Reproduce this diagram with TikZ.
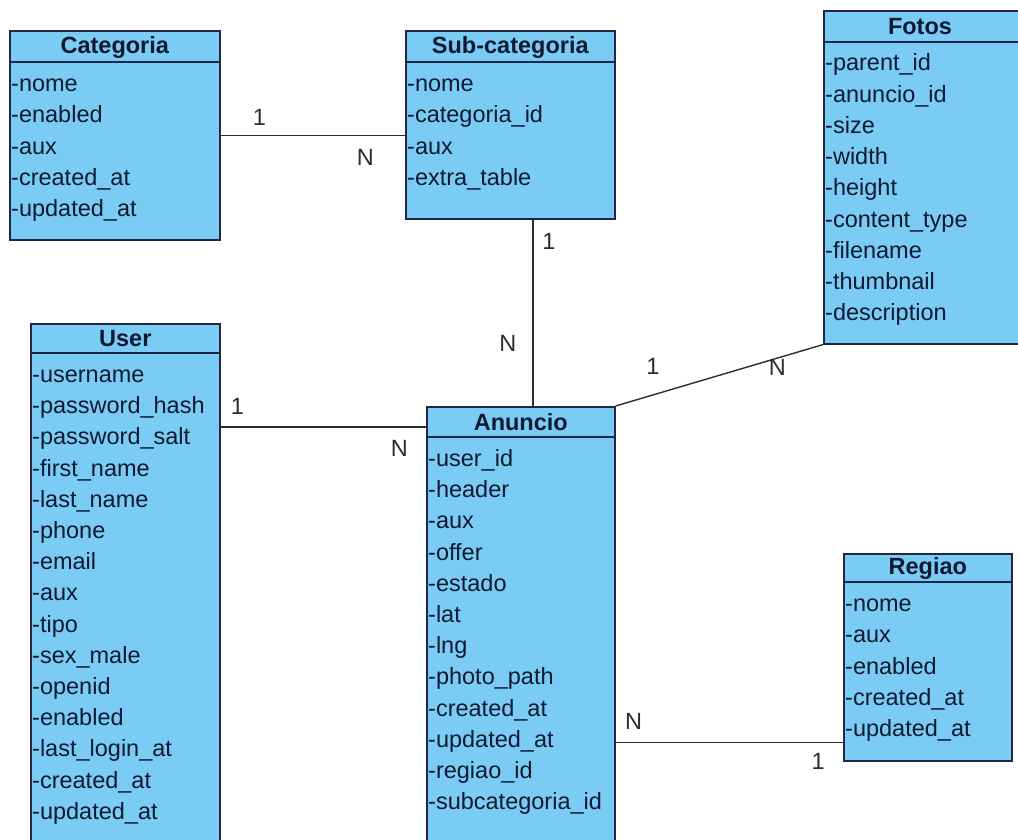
\documentclass[tikz,border=0pt]{standalone}
\usepackage{fontspec}
\setmainfont{Liberation Sans}
\usetikzlibrary{positioning,calc}

\definecolor{umlfill}{RGB}{122,204,244}
\definecolor{umlline}{RGB}{30,40,70}
\definecolor{umltext}{RGB}{15,25,50}
\definecolor{linkgray}{RGB}{45,45,45}

\begin{document}
\begin{tikzpicture}[
            x=1pt, y=-1pt,
            font=\fontsize{23.5}{28}\selectfont,
            entity/.style = {draw=umlline, fill=umlfill, line width=1.6pt, anchor=north west, inner sep=0pt},
            sepline/.style = {draw=umlline, line width=1.6pt},
            title/.style = {font=\fontsize{23.5}{28}\selectfont\bfseries, text=umltext, inner sep=0pt},
            attr/.style = {anchor=base west, text=umltext, inner sep=0pt},
            link/.style = {draw=linkgray, line width=1.4pt},
            card/.style = {text=linkgray, inner sep=0pt}
        ]
        \useasboundingbox (0,0) rectangle (1018,840);
        \clip (0,0) rectangle (1018,840);

        % Categoria
        \node [entity, minimum width=210pt, minimum height=209pt] (categoria) at (9,30) {};
        \draw [sepline] ([yshift=-32pt]categoria.north west) -- ([yshift=-32pt]categoria.north east);
        \node [title] (categoriaTitle) at ([yshift=-17pt]categoria.north) {Categoria};
        \foreach \a [count=\i] in {nome,enabled,aux,created\_at,updated\_at}
            \node [attr] (categoria\i) at ([xshift=2pt, yshift={-61.5pt-31.3pt*(\i-1)}]categoria.north west) {-\a};

        % Sub-categoria
        \node [entity, minimum width=209pt, minimum height=188pt] (subcategoria) at (405,30) {};
        \draw [sepline] ([yshift=-32pt]subcategoria.north west) -- ([yshift=-32pt]subcategoria.north east);
        \node [title] (subcategoriaTitle) at ([yshift=-17pt]subcategoria.north) {Sub-categoria};
        \foreach \a [count=\i] in {nome,categoria\_id,aux,extra\_table}
            \node [attr] (subcategoria\i) at ([xshift=2pt, yshift={-61.5pt-31.3pt*(\i-1)}]subcategoria.north west) {-\a};

        % Fotos
        \node [entity, minimum width=215pt, minimum height=333pt] (fotos) at (823,10) {};
        \draw [sepline] ([yshift=-32pt]fotos.north west) -- ([yshift=-32pt]fotos.north east);
        \node [title] (fotosTitle) at ([yshift=-17pt]fotos.north west) [anchor=center, xshift=97pt] {Fotos};
        \foreach \a [count=\i] in {parent\_id,anuncio\_id,size,width,height,content\_type,filename,thumbnail,description}
            \node [attr] (fotos\i) at ([xshift=2pt, yshift={-61pt-31.2pt*(\i-1)}]fotos.north west) {-\a};

        % User
        \node [entity, minimum width=189pt, minimum height=540pt] (user) at (30,323) {};
        \draw [sepline] ([yshift=-30pt]user.north west) -- ([yshift=-30pt]user.north east);
        \node [title] (userTitle) at ([yshift=-16pt]user.north) {User};
        \foreach \a [count=\i] in {username,password\_hash,password\_salt,first\_name,last\_name,phone,email,aux,tipo,sex\_male,openid,enabled,last\_login\_at,created\_at,updated\_at}
            \node [attr] (user\i) at ([xshift=2pt, yshift={-59.5pt-31.2pt*(\i-1)}]user.north west) {-\a};

        % Anuncio
        \node [entity, minimum width=188pt, minimum height=460pt] (anuncio) at (426,406) {};
        \draw [sepline] ([yshift=-31pt]anuncio.north west) -- ([yshift=-31pt]anuncio.north east);
        \node [title] (anuncioTitle) at ([yshift=-16.5pt]anuncio.north) {Anuncio};
        \foreach \a [count=\i] in {user\_id,header,aux,offer,estado,lat,lng,photo\_path,created\_at,updated\_at,regiao\_id,subcategoria\_id}
            \node [attr] (anuncio\i) at ([xshift=2pt, yshift={-60.5pt-31.2pt*(\i-1)}]anuncio.north west) {-\a};

        % Regiao
        \node [entity, minimum width=168pt, minimum height=207pt] (regiao) at (843,553) {};
        \draw [sepline] ([yshift=-29pt]regiao.north west) -- ([yshift=-29pt]regiao.north east);
        \node [title] (regiaoTitle) at ([yshift=-15.5pt]regiao.north) {Regiao};
        \foreach \a [count=\i] in {nome,aux,enabled,created\_at,updated\_at}
            \node [attr] (regiao\i) at ([xshift=2pt, yshift={-58.5pt-31.3pt*(\i-1)}]regiao.north west) {-\a};

        % Relacoes
        \coordinate (scEnd) at ([xshift=22.5pt]subcategoria.south);
        \coordinate (uaEnd) at ([yshift=-21pt]anuncio.north west);
        \coordinate (rgEnd) at ([yshift=19pt]regiao.south west);

        \draw [link] (categoria.east) -- (categoria.east -| subcategoria.west)
            node [card, pos=0.21, yshift=18pt] (catOne) {1}
            node [card, pos=0.785, yshift=-22pt] (catMany) {N};
        \draw [link] (scEnd) -- (scEnd |- anuncio.north)
            node [card, pos=0.117, xshift=16pt] (subOne) {1}
            node [card, pos=0.665, xshift=-25pt] (subMany) {N};
        \draw [link] (uaEnd -| user.east) -- (uaEnd)
            node [card, pos=0.082, yshift=21pt] (userOne) {1}
            node [card, pos=0.87, yshift=-21pt] (userMany) {N};
        \draw [link] (anuncio.north east) -- (fotos.south west)
            node [card, pos=0.18, yshift=29pt] (fotoOne) {1}
            node [card, pos=0.78, yshift=-9pt] (fotoMany) {N};
        \draw [link] (rgEnd -| anuncio.east) -- (rgEnd)
            node [card, pos=0.079, yshift=21pt] (regMany) {N}
            node [card, pos=0.891, yshift=-19pt] (regOne) {1};

    \end{tikzpicture}
\end{document}
